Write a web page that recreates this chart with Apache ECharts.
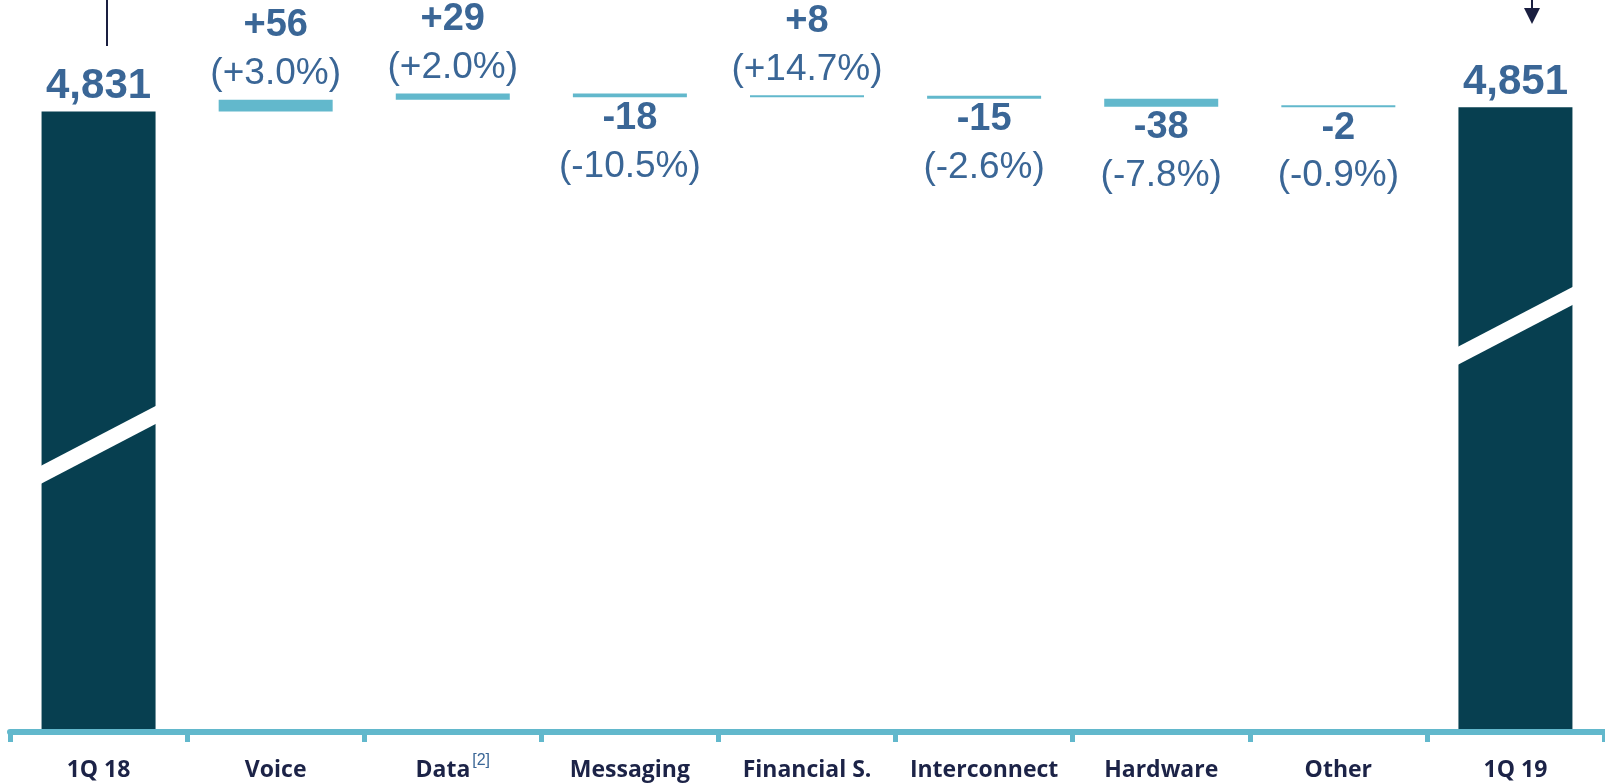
<!DOCTYPE html>
<html>
<head>
<meta charset="utf-8">
<script src="https://cdn.jsdelivr.net/npm/echarts@6/dist/echarts.min.js"></script>
<style>
html,body{margin:0;padding:0;background:#fff;}
#chart{width:1605px;height:783px;}
</style>
</head>
<body>
<div id="chart"></div>
<script>
// ---- data ----
const categories = ['1Q 18', 'Voice', 'Data', 'Messaging', 'Financial S.', 'Interconnect', 'Hardware', 'Other', '1Q 19'];
const startTotal = 4831;
const endTotal = 4851;
const changes = [56, 29, -18, 8, -15, -38, -2];
const changePct = [3.0, 2.0, -10.5, 14.7, -2.6, -7.8, -0.9];
// axis-break marks drawn across the two total bars: [category index, value at left edge, value at right edge]
const breakMarks = [[0, 3106, 3393], [8, 3670, 3958]];

// ---- derived waterfall series ----
const n = categories.length;
const baseData = new Array(n).fill('-');
const changeData = new Array(n).fill('-');
const totalData = new Array(n).fill('-');
totalData[0] = startTotal;
totalData[n - 1] = endTotal;
let running = startTotal;
const fmtSigned = (v, d) => (v > 0 ? '+' : '') + (d === undefined ? String(v) : v.toFixed(d));
changes.forEach((d, i) => {
  const idx = i + 1;
  const next = running + d;
  baseData[idx] = Math.min(running, next);
  const pos = d >= 0;
  changeData[idx] = {
    value: Math.abs(d),
    label: {
      position: pos ? 'top' : 'bottom',
      distance: pos ? 2 : -3,
      formatter: '{v|' + fmtSigned(d) + '}\n{p|(' + fmtSigned(changePct[i], 1) + '%)}'
    }
  };
  running = next;
});

const LABEL_BLUE = '#3a6696';
const NUM_FONT = '"Liberation Sans", Arial, sans-serif';
const CAT_FONT = '"Open Sans", Lato, sans-serif';

const chart = echarts.init(document.getElementById('chart'));
chart.setOption({
  animation: false,
  backgroundColor: '#ffffff',
  grid: { left: 10, right: 1, top: 0, bottom: 54, containLabel: false },
  xAxis: {
    type: 'category',
    data: categories,
    offset: 3,
    axisLine: { lineStyle: { color: '#62b8cc', width: 6 } },
    axisTick: { show: true, length: 10, lineStyle: { color: '#62b8cc', width: 5 } },
    axisLabel: {
      margin: 27,
      interval: 0,
      color: '#1c2347',
      fontFamily: CAT_FONT,
      fontWeight: 'bold',
      fontSize: 23,
      lineHeight: 22,
      formatter: function (v) {
        if (v === 'Data') return '{b|Data}{s|[2]}';
        return '{b|' + v + '}';
      },
      rich: {
        b: { fontFamily: CAT_FONT, fontWeight: 'bold', fontSize: 23, color: '#1c2347', lineHeight: 22 },
        s: { fontFamily: NUM_FONT, fontWeight: 'normal', fontSize: 16, color: LABEL_BLUE, lineHeight: 22, verticalAlign: 'bottom', padding: [0, 0, 12, 2] }
      }
    }
  },
  yAxis: {
    type: 'value',
    min: 1900,
    max: 5360,
    show: false,
    splitLine: { show: false }
  },
  series: [
    {
      name: 'base',
      type: 'bar',
      stack: 'w',
      barWidth: 114,
      itemStyle: { color: 'transparent' },
      emphasis: { disabled: true },
      data: baseData,
      silent: true
    },
    {
      name: 'change',
      type: 'bar',
      stack: 'w',
      barWidth: 114,
      barMinHeight: 2,
      itemStyle: { color: '#62b8cc' },
      label: {
        show: true,
        rich: {
          v: { fontFamily: NUM_FONT, fontWeight: 'bold', fontSize: 38, color: LABEL_BLUE, lineHeight: 48, align: 'center' },
          p: { fontFamily: NUM_FONT, fontSize: 37, color: LABEL_BLUE, lineHeight: 48, align: 'center' }
        }
      },
      data: changeData
    },
    {
      name: 'total',
      type: 'bar',
      stack: 'w',
      barWidth: 114,
      itemStyle: { color: '#073f50' },
      label: {
        show: true,
        position: 'top',
        distance: 4,
        fontFamily: NUM_FONT,
        fontWeight: 'bold',
        fontSize: 42,
        lineHeight: 42,
        color: LABEL_BLUE,
        formatter: function (p) { return p.value.toLocaleString('en-US'); }
      },
      data: totalData
    },
    {
      name: 'breaks',
      type: 'custom',
      z: 10,
      silent: true,
      encode: { x: 0, y: [1, 2] },
      renderItem: function (params, api) {
        const c1 = api.coord([api.value(0), api.value(1)]);
        const c2 = api.coord([api.value(0), api.value(2)]);
        const half = 58, th = 9;
        return {
          type: 'polygon',
          shape: { points: [[c1[0] - half, c1[1] - th], [c1[0] + half, c2[1] - th], [c1[0] + half, c2[1] + th], [c1[0] - half, c1[1] + th]] },
          style: { fill: '#ffffff' }
        };
      },
      data: breakMarks
    }
  ],
  graphic: [
    { type: 'line', shape: { x1: 107, y1: 0, x2: 107, y2: 46 }, style: { stroke: '#1a1f40', lineWidth: 2 } },
    { type: 'line', shape: { x1: 1532, y1: 0, x2: 1532, y2: 10 }, style: { stroke: '#1a1f40', lineWidth: 2 } },
    { type: 'polygon', shape: { points: [[1524, 8], [1540, 8], [1532, 24]] }, style: { fill: '#1a1f40' } }
  ]
});
</script>
</body>
</html>
